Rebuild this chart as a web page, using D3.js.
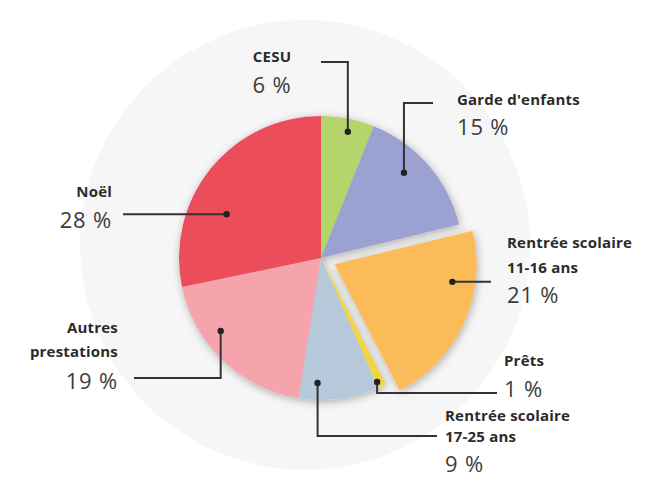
<!DOCTYPE html>
<html lang="fr">
<head>
<meta charset="utf-8">
<title>Répartition des prestations</title>
<script src="https://cdn.jsdelivr.net/npm/d3@7"></script>
<style>
  html, body { margin: 0; padding: 0; background: #ffffff; }
  svg { display: block; }
  .name { font-family: "Open Sans", sans-serif; font-weight: 700; font-size: 15px; fill: #2b2b2b; letter-spacing: 0.2px; }
  .pct { font-family: "Open Sans", sans-serif; font-weight: 400; font-size: 22px; fill: #3c3c3c; letter-spacing: 0.8px; }
</style>
</head>
<body>
<script>
// Data
var categories = ["CESU", "Garde d'enfants", "Rentrée scolaire 11-16 ans", "Prêts",
                  "Rentrée scolaire 17-25 ans", "Autres prestations", "Noël"];
var values = [6, 15, 21, 1, 9, 19, 28];
var nameLines = [["CESU"], ["Garde d'enfants"], ["Rentrée scolaire", "11-16 ans"], ["Prêts"],
                 ["Rentrée scolaire", "17-25 ans"], ["Autres", "prestations"], ["Noël"]];
var colors = ["#b6d46c", "#9ba1d1", "#fbbb59", "#f0d54a", "#b5c9da", "#f5a4ab", "#eb4d5a"];

//Width and height
var w = 659;
var h = 480;
var cx = 321, cy = 258, radius = 142;
var explodeIndex = 2, explodeDist = 15;

// where each label sits (annotation layout)
// t = position across the slice, r = distance of the dot from centre
var labels = [
  {t: 0.55, r: 129, leader: "v", ly: 62,  lx: 321, tx: 272, anchor: "middle", ys: [62, 93]},
  {t: 0.41, r: 119, leader: "v", ly: 103, lx: 433, tx: 457, anchor: "start",  ys: [105, 135]},
  {t: 0.29, r: 119, leader: "h", lx: 491,          tx: 507, anchor: "start",  ys: [248, 273, 303]},
  {t: 0.80, r: 136, leader: "v", ly: 393, lx: 497, tx: 504, anchor: "start",  ys: [366, 397]},
  {t: 0.77, r: 125, leader: "v", ly: 436, lx: 437, tx: 445, anchor: "start",  ys: [421, 442, 472]},
  {t: 0.65, r: 124, leader: "v", ly: 378, lx: 134, tx: 118, anchor: "end",    ys: [333, 357, 389]},
  {t: 0.36, r: 104, leader: "h", lx: 123,          tx: 112, anchor: "end",    ys: [197, 228]}
];

var svg = d3.select("body").append("svg")
  .attr("width", w)
  .attr("height", h);

var defs = svg.append("defs");
var shadow = defs.append("filter").attr("id", "shadow")
  .attr("x", "-30%").attr("y", "-30%").attr("width", "160%").attr("height", "160%");
shadow.append("feDropShadow")
  .attr("dx", 1).attr("dy", 2)
  .attr("stdDeviation", 4)
  .attr("flood-color", "#000")
  .attr("flood-opacity", 0.3);

//Background disc
svg.append("circle")
  .attr("cx", 305).attr("cy", 245).attr("r", 225)
  .attr("fill", "#f7f6f7");

var pie = d3.pie().sort(null).value(function(d) { return d; });
var arcs = pie(values);
var arc = d3.arc().innerRadius(0).outerRadius(radius);

function offset(d, i) {
  if (i !== explodeIndex) return [0, 0];
  var a = (d.startAngle + d.endAngle) / 2;
  return [Math.sin(a) * explodeDist, -Math.cos(a) * explodeDist];
}

var g = svg.append("g")
  .attr("transform", "translate(" + cx + "," + cy + ")")
  .attr("filter", "url(#shadow)");

g.selectAll("path")
  .data(arcs)
  .enter()
  .append("path")
  .attr("d", arc)
  .attr("transform", function(d, i) { var o = offset(d, i); return "translate(" + o[0] + "," + o[1] + ")"; })
  .attr("fill", function(d, i) { return colors[i]; });

//Leaders and labels
var lg = svg.append("g");
arcs.forEach(function(d, i) {
  var L = labels[i];
  var o = offset(d, i);
  var a = d.startAngle + (d.endAngle - d.startAngle) * L.t;
  var px = cx + o[0] + Math.sin(a) * L.r;
  var py = cy + o[1] - Math.cos(a) * L.r;
  var pts;
  if (L.leader === "v") {
    pts = [[px, py], [px, L.ly], [L.lx, L.ly]];
  } else {
    pts = [[px, py], [L.lx, py]];
  }
  lg.append("path")
    .attr("d", d3.line()(pts))
    .attr("fill", "none")
    .attr("stroke", "#333")
    .attr("stroke-width", 2);
  lg.append("circle")
    .attr("cx", px).attr("cy", py).attr("r", 3.2)
    .attr("fill", "#222");

  var lines = nameLines[i];
  lines.forEach(function(s, k) {
    lg.append("text")
      .attr("class", "name")
      .attr("x", L.tx).attr("y", L.ys[k])
      .attr("text-anchor", L.anchor)
      .text(s);
  });
  lg.append("text")
    .attr("class", "pct")
    .attr("x", L.tx).attr("y", L.ys[lines.length])
    .attr("text-anchor", L.anchor)
    .text(values[i] + " %");
});
</script>
</body>
</html>
